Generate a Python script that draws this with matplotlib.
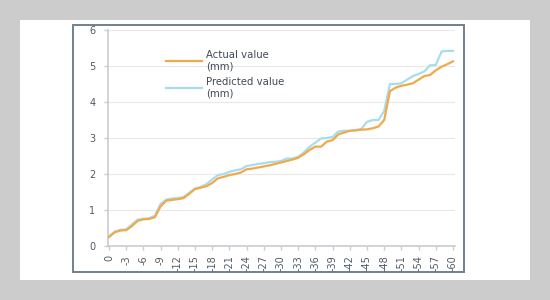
import matplotlib
matplotlib.use("Agg")
from matplotlib import pyplot as plt
from matplotlib.patches import Rectangle

# x categories: 0, -1, ..., -60
steps = list(range(0, -61, -1))

actual = [0.25, 0.38, 0.43, 0.44, 0.55, 0.70, 0.74, 0.75, 0.80, 1.10,
          1.26, 1.28, 1.30, 1.33, 1.45, 1.58, 1.62, 1.66, 1.75, 1.88,
          1.92, 1.97, 2.00, 2.04, 2.13, 2.15, 2.18, 2.21, 2.24, 2.28,
          2.32, 2.36, 2.40, 2.45, 2.55, 2.67, 2.76, 2.76, 2.90, 2.94,
          3.10, 3.15, 3.20, 3.21, 3.23, 3.24, 3.27, 3.32, 3.50, 4.30,
          4.40, 4.45, 4.48, 4.52, 4.62, 4.72, 4.75, 4.88, 4.98, 5.05,
          5.13]

predicted = [0.27, 0.40, 0.45, 0.46, 0.60, 0.73, 0.76, 0.77, 0.84, 1.17,
             1.29, 1.32, 1.33, 1.36, 1.48, 1.60, 1.64, 1.72, 1.85, 1.97,
             2.00, 2.06, 2.10, 2.13, 2.22, 2.25, 2.28, 2.30, 2.33, 2.34,
             2.36, 2.43, 2.43, 2.48, 2.60, 2.76, 2.87, 2.99, 3.00, 3.03,
             3.18, 3.20, 3.20, 3.22, 3.25, 3.45, 3.50, 3.50, 3.75, 4.50,
             4.50, 4.52, 4.62, 4.72, 4.78, 4.85, 5.02, 5.03, 5.40, 5.42,
             5.42]

series_names = ["Actual value\n(mm)", "Predicted value\n(mm)"]

fig = plt.figure(figsize=(5.5, 3), dpi=100, facecolor="#cccccc")
W, H = 550, 300

# white panel and bordered chart box
fig.patches.append(Rectangle((20 / W, 1 - 280 / H), 510 / W, 260 / H,
                             transform=fig.transFigure, facecolor="white",
                             edgecolor="none", zorder=-2))
fig.patches.append(Rectangle((73 / W, 1 - 272 / H), 391 / W, 247 / H,
                             transform=fig.transFigure, facecolor="white",
                             edgecolor="#6f8090", linewidth=1.4, zorder=-1))

ax = fig.add_axes([108 / W, 1 - 246 / H, 347 / W, 216 / H])
ax.set_zorder(5)
ax.set_facecolor("none")

x = list(range(len(steps)))
ax.plot(x, actual, color="#f0aa4a", lw=1.6, label=series_names[0], zorder=3)
ax.plot(x, predicted, color="#a8dcef", lw=1.6, label=series_names[1], zorder=2)

ax.set_xlim(-0.17, 60.35)
ax.set_ylim(0, 6)
ax.set_yticks(range(7))
ax.set_xticks(x[::3])
ax.set_xticklabels([str(s) for s in steps[::3]], rotation=90)
ax.grid(axis="y", color="#e8e8e8", lw=0.8)
ax.set_axisbelow(True)

for s in ["top", "right"]:
    ax.spines[s].set_visible(False)
for s in ["left", "bottom"]:
    ax.spines[s].set_color("#c8cdd2")
    ax.spines[s].set_linewidth(1.2)
ax.tick_params(axis="both", labelsize=7, colors="#c8cdd2", labelcolor="#505a64",
               length=3, width=1)
ax.tick_params(axis="y", pad=6)

handles, labels = ax.get_legend_handles_labels()
ax.legend(handles, labels, loc="upper left", bbox_to_anchor=(0.14, 0.95),
          frameon=False, fontsize=7.3, labelcolor="#404a54", handlelength=3.6,
          labelspacing=0.5, handletextpad=0.4)

fig.savefig("out.png", dpi=100, facecolor=fig.get_facecolor())
